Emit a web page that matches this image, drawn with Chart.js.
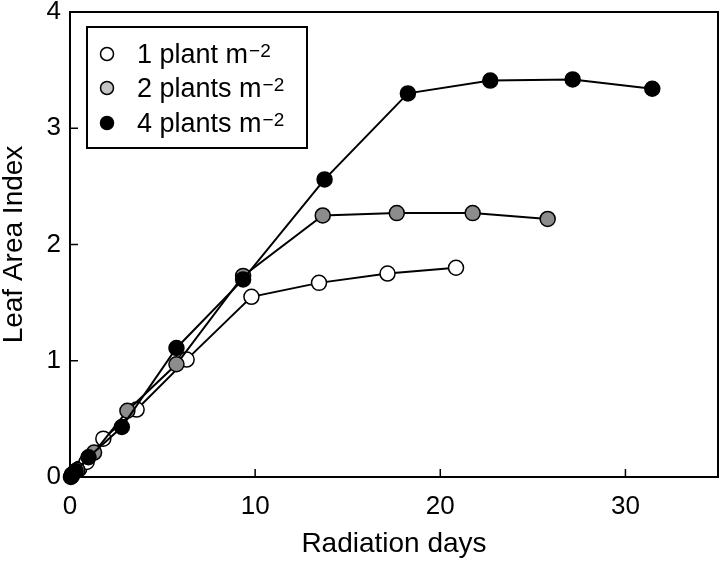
<!DOCTYPE html>
<html><head><meta charset="utf-8">
<script src="https://cdn.jsdelivr.net/npm/chart.js@4.4.1/dist/chart.umd.min.js"></script>
<style>html,body{margin:0;padding:0;background:#fff}</style>
</head><body>
<canvas id="c" width="720" height="562"></canvas>
<script>
// ---- data ----
const seriesNames = ['1 plant m', '2 plants m', '4 plants m'];
const seriesSup = '\u22122';
const x1 = [0.1, 0.5, 0.9, 1.8, 3.6, 6.3, 9.8, 13.45, 17.15, 20.85];
const y1 = [0.01, 0.07, 0.13, 0.33, 0.58, 1.01, 1.55, 1.67, 1.75, 1.80];
const x2 = [0.1, 0.4, 1.3, 3.1, 5.75, 9.35, 13.65, 17.65, 21.75, 25.8];
const y2 = [0.02, 0.06, 0.21, 0.57, 0.97, 1.73, 2.25, 2.27, 2.27, 2.22];
const x4 = [0.05, 0.3, 1.0, 2.8, 5.75, 9.35, 13.75, 18.25, 22.7, 27.15, 31.45];
const y4 = [0.0, 0.05, 0.17, 0.43, 1.11, 1.70, 2.56, 3.30, 3.41, 3.42, 3.34];
const xTicks = [0, 10, 20, 30];
const yTicks = [0, 1, 2, 3, 4];
const xTitle = 'Radiation days';
const yTitle = 'Leaf Area Index';

const FONT = "'Liberation Sans', Arial, Helvetica, sans-serif";
const fills = ['#ffffff', '#8c8c8c', '#000000'];
const legendFills = ['#ffffff', '#c4c4c4', '#000000'];

function pts(xs, ys) { return xs.map((x, i) => ({x: x, y: ys[i]})); }

const framePlugin = {
  id: 'frame',
  afterDraw(chart) {
    const {ctx, chartArea: a, scales} = chart;
    ctx.save();
    ctx.strokeStyle = '#000';
    ctx.lineWidth = 2;
    ctx.strokeRect(a.left, a.top, a.right - a.left, a.bottom - a.top);
    ctx.lineWidth = 1.5;
    const tl = 8;
    xTicks.forEach(v => {
      const px = scales.x.getPixelForValue(v);
      ctx.beginPath(); ctx.moveTo(px, a.bottom); ctx.lineTo(px, a.bottom - tl); ctx.stroke();
    });
    yTicks.forEach(v => {
      const py = scales.y.getPixelForValue(v);
      ctx.beginPath(); ctx.moveTo(a.left, py); ctx.lineTo(a.left + tl, py); ctx.stroke();
    });
    // legend box
    const bx = 87, by = 27, bw = 220, bh = 121;
    ctx.fillStyle = '#fff';
    ctx.fillRect(bx, by, bw, bh);
    ctx.lineWidth = 2;
    ctx.strokeRect(bx, by, bw, bh);
    const rows = [54, 88, 123];
    seriesNames.forEach((name, i) => {
      const cy = rows[i];
      ctx.beginPath();
      ctx.arc(107, cy, 6.5, 0, Math.PI * 2);
      ctx.fillStyle = legendFills[i];
      ctx.fill();
      ctx.lineWidth = 1.5;
      ctx.strokeStyle = '#000';
      ctx.stroke();
      ctx.fillStyle = '#000';
      ctx.textBaseline = 'alphabetic';
      ctx.textAlign = 'left';
      ctx.font = '27px ' + FONT;
      ctx.fillText(name, 137, cy + 9);
      const w = ctx.measureText(name).width;
      ctx.font = '19px ' + FONT;
      ctx.fillText(seriesSup, 137 + w + 1, cy + 3);
    });
    ctx.restore();
  }
};

const common = {
  showLine: true,
  borderColor: '#000',
  borderWidth: 2,
  pointRadius: 7.5,
  pointHoverRadius: 7.5,
  pointBorderColor: '#000',
  pointBorderWidth: 1.5,
  clip: false,
  tension: 0
};

new Chart(document.getElementById('c'), {
  type: 'scatter',
  data: {
    datasets: [
      Object.assign({label: seriesNames[2], data: pts(x4, y4), pointBackgroundColor: fills[2]}, common),
      Object.assign({label: seriesNames[1], data: pts(x2, y2), pointBackgroundColor: fills[1]}, common),
      Object.assign({label: seriesNames[0], data: pts(x1, y1), pointBackgroundColor: fills[0]}, common)
    ]
  },
  options: {
    responsive: false,
    animation: false,
    devicePixelRatio: 1,
    layout: {autoPadding: false, padding: {top: 12, right: 2, left: 0, bottom: 0}},
    plugins: {legend: {display: false}, tooltip: {enabled: false}},
    scales: {
      x: {
        type: 'linear', min: 0, max: 35,
        afterBuildTicks: s => { s.ticks = xTicks.map(v => ({value: v})); },
        afterFit: s => { s.height = 85; s.paddingLeft = 0; s.paddingRight = 0; },
        grid: {display: false, drawTicks: false},
        border: {display: false},
        ticks: {color: '#000', font: {family: FONT, size: 26}, padding: 14, maxRotation: 0},
        title: {display: true, text: xTitle, color: '#000', font: {family: FONT, size: 28, lineHeight: 1}, padding: {top: 0, bottom: 4}}
      },
      y: {
        type: 'linear', min: 0, max: 4,
        afterBuildTicks: s => { s.ticks = yTicks.map(v => ({value: v})); },
        afterFit: s => { s.width = 70; s.paddingTop = 0; s.paddingBottom = 0; },
        grid: {display: false, drawTicks: false},
        border: {display: false},
        ticks: {color: '#000', font: {family: FONT, size: 26}, padding: 9},
        title: {display: true, text: yTitle, color: '#000', font: {family: FONT, size: 28, lineHeight: 1}, padding: {top: 0, bottom: 0}}
      }
    }
  },
  plugins: [framePlugin]
});
</script>
</body></html>
